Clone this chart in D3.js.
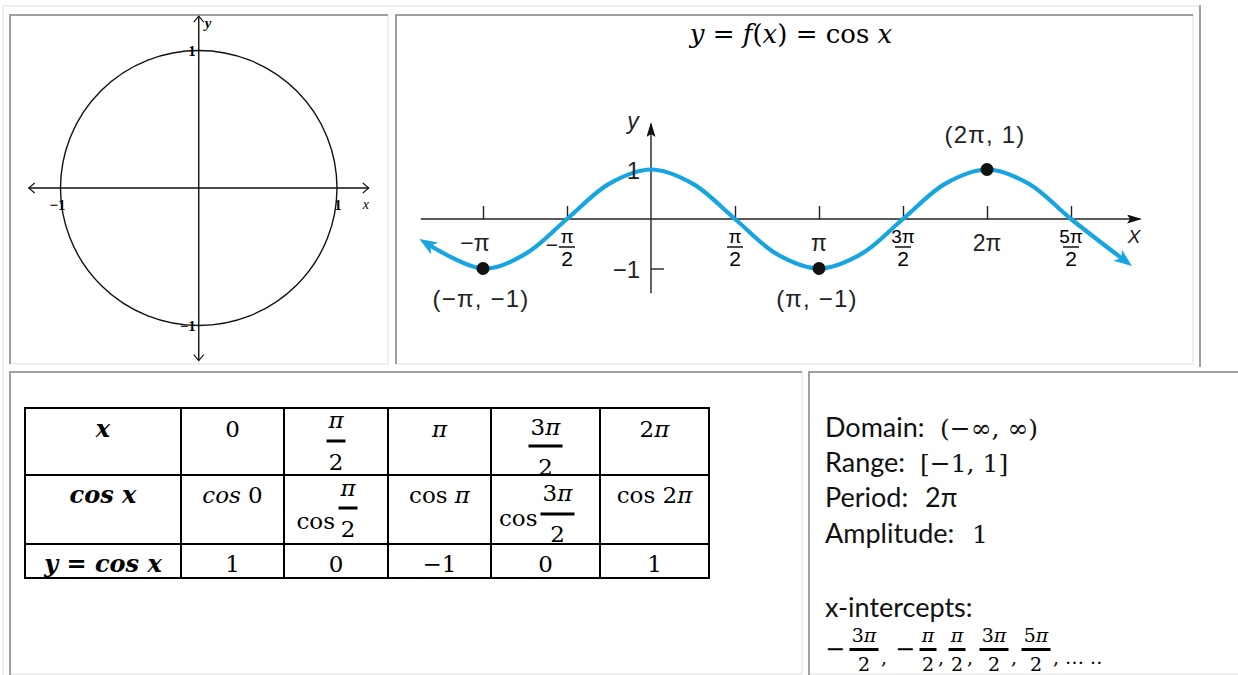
<!DOCTYPE html>
<html><head><meta charset="utf-8">
<script src="https://cdn.jsdelivr.net/npm/d3@7"></script>
<style>body{margin:0;background:#fff}svg{display:block}text{white-space:pre}</style>
</head><body><svg id="c" width="1238" height="675"></svg>
<script>
// ---------------- data ----------------
// unit circle panel
const circleRadius = 1;
const circleTickValues = [-1, 1];
const circleTickLabels = ["−1", "1"];
// cosine graph (x in units of π)
const cosCurveX = [-1.333, -1, -0.75, -0.5, -0.25, 0, 0.25, 0.5, 0.75, 1, 1.25, 1.5, 1.75, 2, 2.25, 2.5, 2.82];
const cosCurveY = [-0.5, -1, -0.71, 0, 0.71, 1, 0.71, 0, -0.71, -1, -0.71, 0, 0.71, 1, 0.71, 0, -0.84];
const xTickValues = [-1, -0.5, 0.5, 1, 1.5, 2, 2.5];
const xTickLabels = [["−π"], ["π", "2", "−"], ["π", "2"], ["π"], ["3π", "2"], ["2π"], ["5π", "2"]];
const yTickValues = [1, -1];
const yTickLabels = ["1", "−1"];
const keyPointX = [-1, 1, 2];
const keyPointY = [-1, -1, 1];
const keyPointLabels = ["(−π, −1)", "(π, −1)", "(2π, 1)"];
const graphTitle = [["y", "i"], [" = ", ""], ["f", "i"], ["(", ""], ["x", "i"], [")", ""], [" = cos ", ""], ["x", "i"]];
// table
const tableRowHeads = ["x", "cos x", "y = cos x"];
const tableXLabels = [["0"], ["π", "2"], ["π"], ["3π", "2"], ["2π"]];
const tableCosLabels = [["cos 0"], ["π", "2"], ["cos π"], ["3π", "2"], ["cos 2π"]];
const tableYValues = [1, 0, -1, 0, 1];
// properties
const propLabels = ["Domain:", "Range:", "Period:", "Amplitude:"];
const propValues = ["(−∞, ∞)", "[−1, 1]", "2π", "1"];
const interceptSigns = ["−", "−", "", "", ""];
const interceptNums = ["3π", "π", "π", "3π", "5π"];
const interceptDens = ["2", "2", "2", "2", "2"];

// ---------------- drawing ----------------
const svg = d3.select("#c");
const LIGHT = "#efefef", DARK = "#a0a0a0";
const MATH = "'DejaVu Serif', serif";
const SANS = "'Liberation Sans', Arial, sans-serif";
const TXT = "Lato, 'Open Sans', sans-serif";
const BLUE = "#17a5e2";

function box(x, y, w, h, fill) {
  svg.append("rect").attr("x", x).attr("y", y).attr("width", w).attr("height", h).attr("fill", fill);
}
// frame (html-table style borders)
box(2, 5, 1199, 2, LIGHT); box(2, 5, 2, 670, LIGHT);
box(387, 14, 2, 351, LIGHT); box(9, 363, 380, 2, LIGHT);
box(1192, 14, 2, 351, LIGHT); box(395, 363, 799, 2, LIGHT);
box(801, 371, 2, 304, LIGHT); box(9, 673, 794, 2, LIGHT); box(808, 673, 430, 2, LIGHT);
box(1199, 5, 2, 362, DARK);
box(9, 14, 379, 2, DARK); box(9, 14, 2, 350, DARK);
box(395, 14, 798, 2, DARK); box(395, 14, 2, 350, DARK);
box(9, 371, 793, 2, DARK); box(9, 371, 2, 304, DARK);
box(808, 371, 430, 2, DARK); box(808, 371, 2, 304, DARK);

function rich(g, x, y, parts, font, size, anchor, extra) {
  const t = g.append("text").attr("x", x).attr("y", y)
    .attr("font-family", font).attr("font-size", size)
    .attr("text-anchor", anchor || "middle").attr("fill", "#000");
  parts.forEach(p => t.append("tspan").text(p[0])
    .attr("font-style", p[1].includes("i") ? "italic" : "normal")
    .attr("font-weight", p[1].includes("b") ? "bold" : "normal"));
  if (extra) extra(t);
  return t;
}
function frac(g, cx, numBase, barY, denBase, num, den, font, nSize, dSize, barW, barT) {
  rich(g, cx, numBase, num, font, nSize, "middle");
  g.append("rect").attr("x", cx - barW / 2).attr("y", barY - barT / 2).attr("width", barW).attr("height", barT).attr("fill", "#000");
  rich(g, cx, denBase, [[den, ""]], font, dSize, "middle");
}
// split "3π" into upright digit and italic π for math font
function mathParts(s, style) {
  const out = [];
  for (const ch of s) {
    const st = (ch === "π" || /[a-z]/.test(ch)) ? "i" : "";
    out.push([ch, (style || "") + st]);
  }
  return out;
}

// ---- Panel 1: unit circle ----
const g1 = svg.append("g");
const cx = d3.scaleLinear().domain([-circleRadius, circleRadius]).range([60.5, 337]);
const cy = d3.scaleLinear().domain([-circleRadius, circleRadius]).range([325.5, 50.5]);
g1.append("ellipse").attr("cx", cx(0)).attr("cy", cy(0))
  .attr("rx", cx(circleRadius) - cx(0)).attr("ry", cy(-circleRadius) - cy(0))
  .attr("fill", "none").attr("stroke", "#111").attr("stroke-width", 1.4);
const ax0 = cx(-1.23), ax1 = cx(1.23), ay0 = cy(1.25), ay1 = cy(-1.255);
g1.append("line").attr("x1", ax0).attr("x2", ax1).attr("y1", cy(0)).attr("y2", cy(0)).attr("stroke", "#111").attr("stroke-width", 1.4);
g1.append("line").attr("x1", cx(0)).attr("x2", cx(0)).attr("y1", ay0).attr("y2", ay1).attr("stroke", "#111").attr("stroke-width", 1.4);
const chev = [
  `M${ax0 + 6},${cy(0) - 5}L${ax0},${cy(0)}L${ax0 + 6},${cy(0) + 5}`,
  `M${ax1 - 6},${cy(0) - 5}L${ax1},${cy(0)}L${ax1 - 6},${cy(0) + 5}`,
  `M${cx(0) - 5},${ay0 + 6}L${cx(0)},${ay0}L${cx(0) + 5},${ay0 + 6}`,
  `M${cx(0) - 5},${ay1 - 6}L${cx(0)},${ay1}L${cx(0) + 5},${ay1 - 6}`
];
g1.selectAll("path.chev").data(chev).join("path").attr("d", d => d).attr("fill", "none").attr("stroke", "#111").attr("stroke-width", 1.1);
const smallSerif = "'Liberation Serif', 'Times New Roman', serif";
circleTickValues.forEach((v, i) => {
  g1.append("text").attr("x", cx(v) + (v < 0 ? -3 : 1)).attr("y", cy(0) + 22).attr("text-anchor", "middle")
    .attr("font-family", smallSerif).attr("font-size", 15).attr("font-weight", "bold").text(circleTickLabels[i]);
  g1.append("text").attr("x", cx(0) - 3).attr("y", cy(v) + 5).attr("text-anchor", "end")
    .attr("font-family", smallSerif).attr("font-size", 15).attr("font-weight", "bold").text(circleTickLabels[i]);
});
g1.append("text").attr("x", cx(0) + 6).attr("y", ay0 + 12).attr("font-family", smallSerif).attr("font-size", 15)
  .attr("font-style", "italic").attr("font-weight", "bold").text("y");
g1.append("text").attr("x", ax1 - 6).attr("y", cy(0) + 21).attr("font-family", smallSerif).attr("font-size", 14)
  .attr("font-style", "italic").text("x");

// ---- Panel 2: cosine graph ----
const g2 = svg.append("g");
const gx = d3.scaleLinear().domain([0, 2]).range([651, 987]);
const gy = d3.scaleLinear().domain([-1, 1]).range([268.5, 169.5]);
const defs = svg.append("defs");
defs.append("marker").attr("id", "blueArrow").attr("markerUnits", "userSpaceOnUse")
  .attr("viewBox", "0 0 18 14").attr("markerWidth", 18).attr("markerHeight", 14)
  .attr("refX", 9).attr("refY", 7).attr("orient", "auto-start-reverse")
  .append("path").attr("d", "M0,0 L18,7 L0,14 L5,7 Z").attr("fill", BLUE);
defs.append("marker").attr("id", "blackArrow").attr("markerUnits", "userSpaceOnUse")
  .attr("viewBox", "0 0 15 9").attr("markerWidth", 15).attr("markerHeight", 9)
  .attr("refX", 13).attr("refY", 4.5).attr("orient", "auto")
  .append("path").attr("d", "M0,0 L15,4.5 L0,9 L3,4.5 Z").attr("fill", "#111");

rich(g2, 791, 43, graphTitle, MATH, 26, "middle");

// axes
g2.append("line").attr("x1", gx(-1.37)).attr("x2", 1140).attr("y1", gy(0)).attr("y2", gy(0))
  .attr("stroke", "#222").attr("stroke-width", 1.4).attr("marker-end", "url(#blackArrow)");
g2.append("line").attr("x1", gx(0)).attr("x2", gx(0)).attr("y1", gy(-1.5)).attr("y2", 124)
  .attr("stroke", "#222").attr("stroke-width", 1.4).attr("marker-end", "url(#blackArrow)");
const xAxis = d3.axisTop(gx).tickValues(xTickValues).tickSize(13).tickFormat("");
g2.append("g").attr("transform", `translate(0,${gy(0)})`).call(xAxis)
  .call(s => s.select(".domain").remove())
  .call(s => s.selectAll(".tick line").attr("stroke", "#222").attr("stroke-width", 1.4));
const yAxis = d3.axisRight(gy).tickValues(yTickValues).tickSize(13).tickFormat("");
g2.append("g").attr("transform", `translate(${gx(0)},0)`).call(yAxis)
  .call(s => s.select(".domain").remove())
  .call(s => s.selectAll(".tick line").attr("stroke", "#222").attr("stroke-width", 1.4));

// curve
const line = d3.line().x(i => gx(cosCurveX[i])).y(i => gy(cosCurveY[i])).curve(d3.curveCatmullRom.alpha(0.5));
g2.append("path").attr("d", line(d3.range(cosCurveX.length)))
  .attr("fill", "none").attr("stroke", BLUE).attr("stroke-width", 4.2)
  .attr("marker-start", "url(#blueArrow)").attr("marker-end", "url(#blueArrow)");

// tick labels
xTickValues.forEach((v, i) => {
  const lab = xTickLabels[i];
  const x = gx(v);
  if (lab.length === 1) {
    g2.append("text").attr("x", x - (v < 0 ? 8 : 0)).attr("y", 251).attr("text-anchor", "middle")
      .attr("font-family", SANS).attr("font-size", 23).attr("fill", "#222").text(lab[0]);
  } else {
    frac(g2, x, 243, 247, 266, [[lab[0], ""]], lab[1], SANS, 19, 21, 16, 1.4);
    if (lab[2]) g2.append("text").attr("x", x - 9).attr("y", 252).attr("text-anchor", "end")
      .attr("font-family", SANS).attr("font-size", 21).attr("fill", "#222").text(lab[2]);
  }
});
yTickValues.forEach((v, i) => {
  g2.append("text").attr("x", gx(0) - 11).attr("y", gy(v) + 9).attr("text-anchor", "end")
    .attr("font-family", SANS).attr("font-size", 24).attr("fill", "#222").text(yTickLabels[i]);
});
g2.append("text").attr("x", 1134).attr("y", 243).attr("text-anchor", "middle").attr("font-family", SANS)
  .attr("font-size", 19).attr("font-style", "italic").attr("fill", "#222").text("X");
g2.append("text").attr("x", 633).attr("y", 129).attr("text-anchor", "middle").attr("font-family", SANS)
  .attr("font-size", 23).attr("font-style", "italic").attr("fill", "#222").text("y");

// key points
g2.selectAll("circle.kp").data(keyPointX).join("circle")
  .attr("cx", (d) => gx(d)).attr("cy", (d, i) => gy(keyPointY[i])).attr("r", 6.5).attr("fill", "#111");
const labelDy = [38, 38, -27];
keyPointX.forEach((v, i) => {
  g2.append("text").attr("x", gx(v) - 2).attr("y", gy(keyPointY[i]) + labelDy[i]).attr("text-anchor", "middle")
    .attr("font-family", SANS).attr("font-size", 24).attr("letter-spacing", 1.2).attr("fill", "#222").text(keyPointLabels[i]);
});

// ---- Panel 3: table ----
const g3 = svg.append("g");
const colX = [25, 181, 284, 388, 491, 600, 709];
const rowY = [408, 475, 544, 578];
const TS = 23;
g3.append("rect").attr("x", colX[0]).attr("y", rowY[0]).attr("width", colX[6] - colX[0]).attr("height", rowY[3] - rowY[0])
  .attr("fill", "none").attr("stroke", "#000").attr("stroke-width", 2);
colX.slice(1, 6).forEach(x => g3.append("line").attr("x1", x).attr("x2", x).attr("y1", rowY[0]).attr("y2", rowY[3]).attr("stroke", "#000").attr("stroke-width", 2));
rowY.slice(1, 3).forEach(y => g3.append("line").attr("x1", colX[0]).attr("x2", colX[6]).attr("y1", y).attr("y2", y).attr("stroke", "#000").attr("stroke-width", 2));
const colC = i => (colX[i] + colX[i + 1]) / 2;
const headBase = [437, 503, 572];
tableRowHeads.forEach((h, r) => {
  const parts = h.split(/(\s+)/).map(s => [s, /\s/.test(s) ? "b" : "bi"]);
  rich(g3, colC(0), headBase[r], parts, MATH, 24, "middle");
});
// row 1: x values
tableXLabels.forEach((lab, i) => {
  const c = colC(i + 1);
  if (lab.length === 1) rich(g3, c, 437, mathParts(lab[0]), MATH, TS, "middle");
  else {
    const isBig = lab[0].length > 1;
    frac(g3, c, isBig ? 435 : 428, isBig ? 446 : 441, isBig ? 475 : 470, mathParts(lab[0]), lab[1], MATH, TS, TS, isBig ? 34 : 19, 3);
  }
});
// row 2: cos values
tableCosLabels.forEach((lab, i) => {
  const c = colC(i + 1);
  if (lab.length === 1) {
    const s = lab[0];
    const parts = i === 0 ? [["cos", "i"], [" 0", ""]] : [["cos ", ""]].concat(mathParts(s.slice(4)));
    rich(g3, c, 503, parts, MATH, TS, "middle");
  } else {
    const isBig = lab[0].length > 1;
    const fc = c + 12;
    rich(g3, fc - (isBig ? 20 : 13), isBig ? 526 : 529, [["cos", ""]], MATH, TS, "end");
    frac(g3, fc, isBig ? 501 : 496, isBig ? 514 : 508, isBig ? 542 : 537, mathParts(lab[0]), lab[1], MATH, TS, TS, isBig ? 34 : 19, 3);
  }
});
// row 3: y values
tableYValues.forEach((v, i) => {
  rich(g3, colC(i + 1), 572, [[v < 0 ? "−" + Math.abs(v) : String(v), ""]], MATH, TS, "middle");
});

// ---- Panel 4: properties ----
const g4 = svg.append("g");
const propBase = [437, 472, 507, 543];
const propValX = [940, 920, 925, 972];
propLabels.forEach((l, i) => {
  g4.append("text").attr("x", 825).attr("y", propBase[i]).attr("font-family", TXT).attr("font-size", 27).attr("fill", "#111").text(l);
  if (i === 2) g4.append("text").attr("x", propValX[i]).attr("y", propBase[i]).attr("font-family", TXT).attr("font-size", 27).attr("fill", "#111").text(propValues[i]);
  else g4.append("text").attr("x", propValX[i]).attr("y", propBase[i]).attr("font-family", MATH).attr("font-size", 25).attr("fill", "#111").text(propValues[i]);
});
g4.append("text").attr("x", 825).attr("y", 617).attr("font-family", TXT).attr("font-size", 27).attr("fill", "#111").text("x-intercepts:");
const fracCenters = [864, 928, 957, 994, 1036];
const signX = [835, 905];
interceptNums.forEach((n, i) => {
  if (interceptSigns[i]) g4.append("text").attr("x", signX[i]).attr("y", 657).attr("text-anchor", "middle")
    .attr("font-family", MATH).attr("font-size", 24).text(interceptSigns[i]);
  frac(g4, fracCenters[i], 642, 649.5, 671, mathParts(n), interceptDens[i], MATH, 19, 19, n.length > 1 ? 29 : 17, 3);
  g4.append("text").attr("x", fracCenters[i] + (n.length > 1 ? 17 : 10)).attr("y", 664).attr("font-family", MATH).attr("font-size", 19).text(i < 4 ? "," : ", … ..");
});
</script></body></html>
